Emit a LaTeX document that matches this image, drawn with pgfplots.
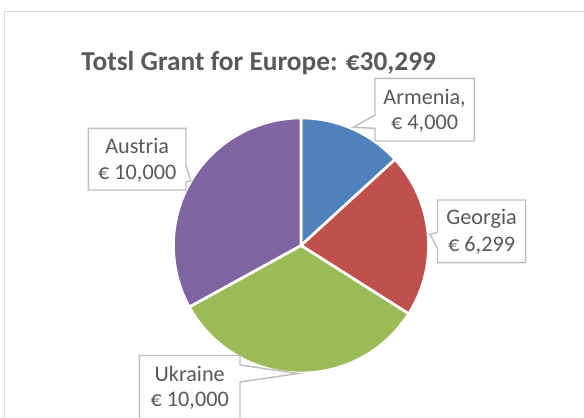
\documentclass[border=0pt]{standalone}
\usepackage{pgfplots}
\pgfplotsset{compat=1.18}
\usepackage{fontspec}
\setmainfont{Carlito}
\definecolor{cA}{HTML}{4F81BD}
\definecolor{cB}{HTML}{C0504D}
\definecolor{cC}{HTML}{9BBB59}
\definecolor{cD}{HTML}{8064A2}
\definecolor{txt}{HTML}{595959}
\definecolor{boxg}{HTML}{BFBFBF}
\definecolor{frame}{HTML}{D9D9D9}
% values (EUR)
\def\vA{4000}  % Armenia
\def\vB{6299}  % Georgia
\def\vC{10000} % Ukraine
\def\vD{10000} % Austria
\pgfmathsetmacro\tot{\vA/1000+\vB/1000+\vC/1000+\vD/1000}
\pgfmathsetmacro\aA{90}
\pgfmathsetmacro\aB{\aA-\vA/1000/\tot*360}
\pgfmathsetmacro\aC{\aB-\vB/1000/\tot*360}
\pgfmathsetmacro\aD{\aC-\vC/1000/\tot*360}
\pgfmathsetmacro\aE{\aD-\vD/1000/\tot*360}
\begin{document}
\begin{tikzpicture}
\useasboundingbox (0,0) rectangle (438pt,312.75pt);
\clip (0,0) rectangle (438pt,312.75pt);
\begin{axis}[
  at={(0,0)}, anchor=south west,
  scale only axis, width=438pt, height=312.75pt,
  xmin=0, xmax=584, ymin=0, ymax=417,
  hide axis, clip=false,
]
% chart frame
\draw[frame, line width=1pt] (axis cs:4.5,-20) -- (axis cs:4.5,405.5) -- (axis cs:620,405.5);
% pie wedges
\addplot[fill=cA, draw=white, line width=2pt, line join=round, domain=\aB:\aA, samples=80, variable=\t]
  ({301+127.5*cos(\t)}, {171.5+127.5*sin(\t)}) -- (axis cs:301,171.5) -- cycle;
\addplot[fill=cB, draw=white, line width=2pt, line join=round, domain=\aC:\aB, samples=80, variable=\t]
  ({301+127.5*cos(\t)}, {171.5+127.5*sin(\t)}) -- (axis cs:301,171.5) -- cycle;
\addplot[fill=cC, draw=white, line width=2pt, line join=round, domain=\aD:\aC, samples=80, variable=\t]
  ({301+127.5*cos(\t)}, {171.5+127.5*sin(\t)}) -- (axis cs:301,171.5) -- cycle;
\addplot[fill=cD, draw=white, line width=2pt, line join=round, domain=\aE:\aD, samples=80, variable=\t]
  ({301+127.5*cos(\t)}, {171.5+127.5*sin(\t)}) -- (axis cs:301,171.5) -- cycle;
% title
\node[anchor=base, text=txt, font=\fontsize{20.5}{24}\selectfont\bfseries] at (axis cs:258.7,346) {Totsl Grant for Europe: €30,299};
% callouts
\tikzset{callout/.style={draw=boxg, fill=white, line width=1.1pt, line join=miter}}
\draw[callout] (axis cs:375,338.7) -- (axis cs:474.3,338.7) -- (axis cs:474.3,276) -- (axis cs:375,276) -- (axis cs:375,288.7) -- (axis cs:353.3,289.7) -- (axis cs:375,302) -- cycle;
\draw[callout] (axis cs:88.3,288.7) -- (axis cs:186,288.7) -- (axis cs:186,252) -- (axis cs:190.7,236) -- (axis cs:186,235) -- (axis cs:186,227) -- (axis cs:88.3,227) -- cycle;
\draw[callout] (axis cs:437.5,217) -- (axis cs:525.7,217) -- (axis cs:525.7,154.3) -- (axis cs:437.5,154.3) -- (axis cs:437.5,168.7) -- (axis cs:430,182.7) -- (axis cs:437.5,184.7) -- cycle;
\draw[callout] (axis cs:139.3,-5) -- (axis cs:139.3,61.5) -- (axis cs:240,61.5) -- (axis cs:240,52) -- (axis cs:298,43.5) -- (axis cs:240,35) -- (axis cs:240,-5);
% label texts
\tikzset{lbl/.style={anchor=base, text=txt, font=\fontsize{16.65}{20}\selectfont, inner sep=0pt}}
\node[lbl] at (axis cs:424.6,312.7) {Armenia,};
\node[lbl] at (axis cs:424.6,287) {€ 4,000};
\node[lbl] at (axis cs:137.2,263.7) {Austria};
\node[lbl] at (axis cs:137.2,237) {€ 10,000};
\node[lbl] at (axis cs:481.6,192) {Georgia};
\node[lbl] at (axis cs:481.6,165.3) {€ 6,299};
\node[lbl] at (axis cs:189.7,35.3) {Ukraine};
\node[lbl] at (axis cs:189.7,10.3) {€ 10,000};
\end{axis}
\end{tikzpicture}
\end{document}
